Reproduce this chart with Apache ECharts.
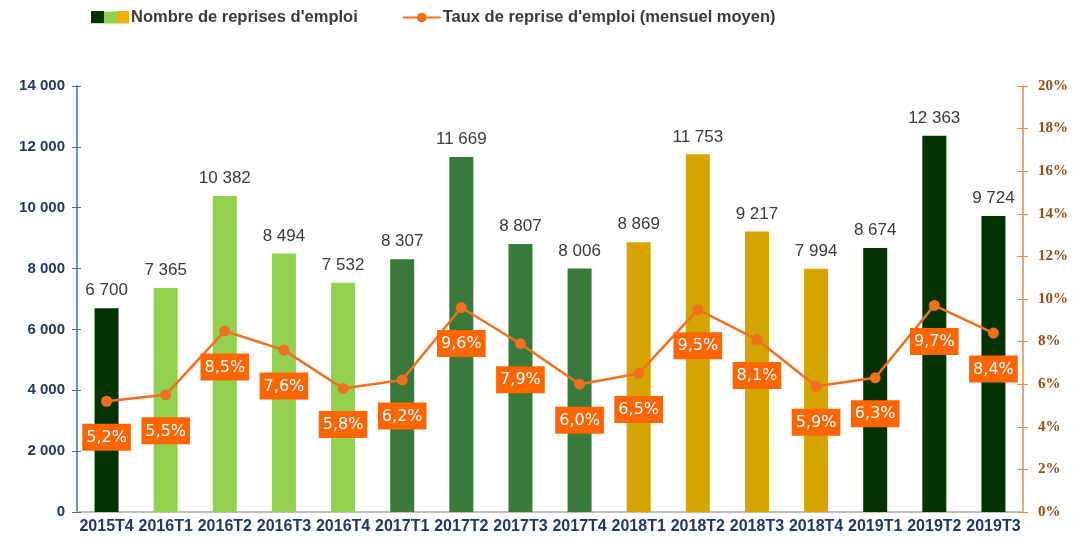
<!DOCTYPE html>
<html><head><meta charset="utf-8">
<script src="https://cdn.jsdelivr.net/npm/echarts@6/dist/echarts.min.js"></script>
<style>html,body{margin:0;padding:0;background:#fff}#c{width:1074px;height:538px}</style>
</head><body><div id="c"></div>
<script>
const categories = ['2015T4','2016T1','2016T2','2016T3','2016T4','2017T1','2017T2','2017T3','2017T4','2018T1','2018T2','2018T3','2018T4','2019T1','2019T2','2019T3'];
const reprises = [6700,7365,10382,8494,7532,8307,11669,8807,8006,8869,11753,9217,7994,8674,12363,9724];
const taux = [5.2,5.5,8.5,7.6,5.8,6.2,9.6,7.9,6.0,6.5,9.5,8.1,5.9,6.3,9.7,8.4];
const yearColors = {'2015':'#033301','2016':'#92d050','2017':'#387a3c','2018':'#d4a500','2019':'#033301'};

const fmtThousands = v => String(v).replace(/\B(?=(\d{3})+(?!\d))/g, ' ');
const font = '"Liberation Sans Narrow","Liberation Sans",Arial,sans-serif';

const chart = echarts.init(document.getElementById('c'));
chart.setOption({
  animation:false,
  textStyle:{fontFamily:font},
  legend:{
    left:91, top:9, padding:0, itemGap:44, itemHeight:12, itemWidth:38,
    textStyle:{fontFamily:font, fontSize:16.5, fontWeight:'bold', color:'#3a3a3a', padding:[0,0,0,-3]},
    data:[
      {name:"Nombre de reprises d'emploi", icon:'rect', itemStyle:{color:'#92d050'}},
      {name:"Taux de reprise d'emploi (mensuel moyen)", itemStyle:{borderWidth:0}}
    ]
  },
  graphic:[
    {type:'rect', left:91, top:11, shape:{width:13,height:12}, style:{fill:'#033301'}, z:100},
    {type:'rect', left:117, top:11, shape:{width:12,height:12}, style:{fill:'#f0b000'}, z:100}
  ],
  grid:{left:77, right:51, top:86, bottom:26},
  xAxis:{
    type:'category', data:categories,
    axisLine:{lineStyle:{color:'#bfbfbf', width:2}},
    axisTick:{show:false},
    axisLabel:{color:'#1f3864', fontWeight:'bold', fontSize:16, margin:7, fontFamily:font, interval:0}
  },
  yAxis:[
    {type:'value', min:0, max:14000, interval:2000, position:'left',
     axisLine:{show:true, lineStyle:{color:'#4a6a91', width:1.5}},
     axisTick:{show:true, length:5, lineStyle:{color:'#4a6a91'}},
     splitLine:{show:false},
     axisLabel:{color:'#1f3864', fontWeight:'bold', fontSize:15, margin:12, fontFamily:font, formatter:v=>fmtThousands(v)}
    },
    {type:'value', min:0, max:20, interval:2, position:'right',
     axisLine:{show:true, lineStyle:{color:'#f58a3c', width:1.5}},
     axisTick:{show:true, length:5, lineStyle:{color:'#f58a3c'}},
     splitLine:{show:false},
     axisLabel:{color:'#9b4a17', fontWeight:'bold', fontSize:15, margin:15, fontFamily:'"Liberation Serif",serif', formatter:v=>v+'%'}
    },
    {type:'value', min:0, max:14000, interval:2000, position:'left',
     axisLine:{show:false}, axisTick:{show:true, inside:true, length:4, lineStyle:{color:'#4a6a91'}},
     axisLabel:{show:false}, splitLine:{show:false}
    },
    {type:'value', min:0, max:20, interval:2, position:'right',
     axisLine:{show:false}, axisTick:{show:true, inside:true, length:6, lineStyle:{color:'#f58a3c'}},
     axisLabel:{show:false}, splitLine:{show:false}
    }
  ],
  series:[
    {name:"Nombre de reprises d'emploi", type:'bar', barWidth:24, yAxisIndex:0,
     data:reprises.map((v,i)=>({value:v, itemStyle:{color:yearColors[categories[i].slice(0,4)]}})),
     label:{show:true, position:'top', distance:9, color:'#3a3a3a', fontSize:17, fontFamily:font, formatter:p=>fmtThousands(p.value)}
    },
    {name:"Taux de reprise d'emploi (mensuel moyen)", type:'line', yAxisIndex:1,
     data:taux, symbol:'circle', symbolSize:11,
     lineStyle:{color:'#f07020', width:2.5}, itemStyle:{color:'#f07020'},
     label:{show:true, position:'bottom', distance:17, backgroundColor:'#ff6600', color:'#ffffff',
            fontSize:16, fontFamily:'"DejaVu Sans",sans-serif', padding:[6,4,5,4],
            formatter:p=>p.value.toFixed(1).replace('.',',')+'%'}
    }
  ]
});
</script></body></html>
